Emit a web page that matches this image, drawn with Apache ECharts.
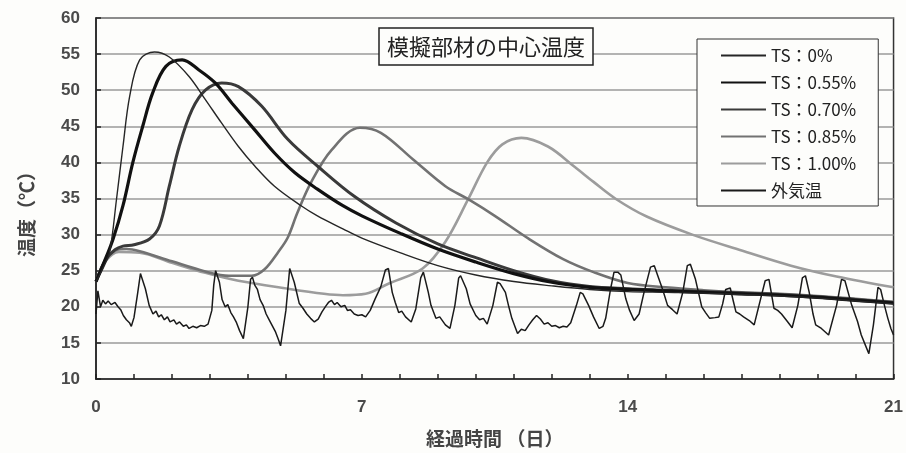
<!DOCTYPE html>
<html>
<head>
<meta charset="utf-8">
<script src="https://cdn.jsdelivr.net/npm/echarts@6/dist/echarts.min.js"></script>
<style>
html,body{margin:0;padding:0;background:#fdfdfb;}
#chart{width:906px;height:453px;}
</style>
</head>
<body>
<div id="chart"></div>
<script>
// ---- data (day, °C) ----
const seriesNames = ['TS：0%', 'TS：0.55%', 'TS：0.70%', 'TS：0.85%', 'TS：1.00%', '外気温'];
const xTickLabels = [0, 7, 14, 21];
const yTickLabels = [10, 15, 20, 25, 30, 35, 40, 45, 50, 55, 60];

const ts000 = [[0,23.5],[0.2,25.5],[0.36,27.6],[0.54,34.9],[0.71,42.2],[0.885,49.1],[1.15,54.2],[1.54,55.3],[1.93,54.6],[2.45,51.9],[2.88,48.7],[3.3,45.5],[3.75,42.2],[4.18,39.5],[4.7,36.7],[5.4,34.0],[5.83,32.6],[6.5,30.8],[7.0,29.5],[8.0,27.5],[9.0,25.7],[10.0,24.4],[11.0,23.5],[12.0,22.9],[13.0,22.4],[14.0,22.1],[15.0,22.0],[16.0,21.9],[17.0,21.7],[18.0,21.5],[19.0,21.2],[20.0,20.8],[21.0,20.4]];
const ts055 = [[0,23.5],[0.2,26.0],[0.45,29.4],[0.71,34.0],[0.97,40.0],[1.23,45.0],[1.49,49.6],[1.84,53.3],[2.27,54.2],[2.71,52.8],[3.14,51.0],[3.58,48.2],[4.18,44.5],[4.7,41.3],[5.23,38.6],[5.83,36.3],[6.5,34.0],[7.0,32.6],[8.0,30.2],[9.0,28.0],[10.0,26.2],[11.0,24.6],[12.0,23.4],[13.0,22.7],[14.0,22.4],[15,22.2],[16,22.0],[17,21.8],[18,21.6],[19,21.3],[20,20.9],[21,20.5]];
const ts070 = [[0,23.5],[0.25,26.5],[0.5,27.9],[0.71,28.4],[1.0,28.6],[1.41,29.4],[1.67,31.2],[1.93,36.7],[2.19,42.2],[2.53,47.3],[2.88,50.0],[3.31,51.0],[3.75,50.5],[4.36,47.8],[5.05,43.2],[5.83,39.5],[6.8,35.3],[7.9,31.6],[9.0,28.7],[10.0,26.8],[11.0,25.0],[12.0,23.6],[13.0,22.8],[14.0,22.5],[15,22.3],[16,22.1],[17,21.9],[18,21.7],[19,21.4],[20,21.0],[21,20.6]];
const ts085 = [[0,23.5],[0.25,26.5],[0.5,27.8],[0.8,28.0],[1.15,27.7],[2.0,26.3],[2.88,24.9],[3.5,24.3],[4.1,24.3],[4.44,25.2],[4.8,27.6],[5.05,29.6],[5.3,33.0],[5.66,37.2],[6.2,41.7],[6.95,44.8],[7.5,44.1],[8.35,40.4],[9.2,36.7],[9.8,34.9],[10.5,32.6],[11.4,29.4],[12.3,26.6],[13.1,24.8],[14.0,23.3],[15,22.7],[16,22.3],[17,22.0],[18,21.8],[19,21.5],[20,21.1],[21,20.7]];
const ts100 = [[0,23.5],[0.25,26.3],[0.6,27.6],[1.15,27.5],[2.0,26.1],[2.88,24.7],[3.75,23.6],[5.05,22.5],[6.0,21.8],[6.5,21.6],[7.1,21.8],[7.7,23.2],[8.6,25.3],[9.2,29.0],[9.8,34.9],[10.3,40.0],[10.7,42.5],[11.2,43.4],[11.9,42.2],[12.6,39.4],[13.1,37.3],[13.7,34.9],[14.5,32.5],[15.7,30.0],[17.0,27.8],[18.3,25.7],[19.5,24.2],[21.0,22.7]];
const outside = [[0.0,19.0],[0.05,22.2],[0.12,20.0],[0.18,20.9],[0.25,20.4],[0.32,20.8],[0.4,20.3],[0.5,20.6],[0.58,20.0],[0.65,19.6],[0.72,18.8],[0.8,18.2],[0.88,17.8],[0.93,17.3],[1.0,18.5],[1.1,22.0],[1.17,24.6],[1.22,24.8],[1.3,22.5],[1.4,20.2],[1.5,19.0],[1.58,19.4],[1.65,18.6],[1.72,18.9],[1.8,18.2],[1.88,18.6],[1.95,17.9],[2.05,18.2],[2.12,17.6],[2.2,17.9],[2.3,17.3],[2.38,17.5],[2.45,17.0],[2.55,17.3],[2.65,17.1],[2.75,17.4],[2.85,17.3],[2.95,17.6],[3.05,19.5],[3.1,23.0],[3.15,25.0],[3.2,24.8],[3.25,23.4],[3.32,21.0],[3.4,20.0],[3.47,20.3],[3.55,19.2],[3.62,18.6],[3.7,17.8],[3.78,16.7],[3.88,15.6],[4.0,20.0],[4.07,23.8],[4.12,24.1],[4.18,23.0],[4.25,22.4],[4.32,21.0],[4.4,20.2],[4.48,19.0],[4.56,18.2],[4.64,17.4],[4.72,16.6],[4.8,15.5],[4.86,14.6],[5.0,19.5],[5.1,25.3],[5.14,25.5],[5.22,23.4],[5.35,20.5],[5.45,19.8],[5.55,19.0],[5.65,18.4],[5.75,17.9],[5.85,18.3],[5.95,19.3],[6.05,20.1],[6.12,20.6],[6.2,20.9],[6.28,20.3],[6.35,20.6],[6.45,20.0],[6.55,20.2],[6.62,19.5],[6.7,19.6],[6.8,19.0],[6.9,18.8],[7.0,18.9],[7.1,18.6],[7.22,19.5],[7.35,21.1],[7.5,22.8],[7.62,25.1],[7.7,25.3],[7.8,22.0],[7.88,20.6],[7.97,19.2],[8.05,19.4],[8.15,18.6],[8.3,17.9],[8.42,19.7],[8.55,24.0],[8.62,24.8],[8.75,22.0],[8.82,20.2],[8.95,18.4],[9.05,18.6],[9.2,17.5],[9.32,17.0],[9.45,20.2],[9.55,24.0],[9.6,24.3],[9.75,22.5],[9.85,20.4],[10.0,18.8],[10.1,18.2],[10.2,18.4],[10.3,17.6],[10.45,20.2],[10.57,23.4],[10.64,23.2],[10.78,22.0],[10.87,20.0],[10.95,18.4],[11.05,17.0],[11.1,16.3],[11.2,16.9],[11.3,16.7],[11.4,17.5],[11.5,18.2],[11.6,18.8],[11.7,18.3],[11.8,17.6],[11.9,17.8],[12.0,17.3],[12.1,17.4],[12.2,17.1],[12.3,17.3],[12.4,17.2],[12.5,17.8],[12.65,20.2],[12.75,22.0],[12.82,21.8],[12.97,20.2],[13.1,18.6],[13.25,17.0],[13.35,17.3],[13.42,18.4],[13.55,22.5],[13.64,24.8],[13.74,24.8],[13.82,24.4],[13.95,21.1],[14.05,19.5],[14.17,18.1],[14.3,19.0],[14.43,22.0],[14.6,25.5],[14.7,25.7],[14.82,23.9],[14.92,22.4],[15.05,20.2],[15.18,19.6],[15.3,19.0],[15.45,22.0],[15.57,25.7],[15.65,25.9],[15.78,23.9],[15.95,20.0],[16.05,19.2],[16.16,18.4],[16.3,18.5],[16.4,18.6],[16.5,20.4],[16.58,22.4],[16.7,22.6],[16.78,20.8],[16.85,19.3],[16.95,19.0],[17.05,18.6],[17.2,18.1],[17.33,17.5],[17.5,21.1],[17.62,23.6],[17.72,23.8],[17.85,19.8],[17.95,19.5],[18.05,19.0],[18.2,18.0],[18.33,17.1],[18.48,20.2],[18.6,24.0],[18.68,24.3],[18.78,22.0],[18.88,19.0],[18.95,17.5],[19.1,17.0],[19.29,16.1],[19.5,20.2],[19.63,23.8],[19.72,23.6],[19.9,20.2],[20.05,18.0],[20.15,16.1],[20.25,14.8],[20.35,13.5],[20.47,17.5],[20.59,22.7],[20.66,22.4],[20.76,20.2],[20.85,18.4],[20.93,17.0],[21.0,16.1]];

const seriesData = [ts000, ts055, ts070, ts085, ts100, outside];
const seriesColors = ['#262626', '#111111', '#3a3a3a', '#727272', '#9c9c9c', '#1a1a1a'];
const seriesWidths = [1.4, 3.2, 3.0, 2.6, 2.6, 1.5];

const jp = '"Noto Sans CJK JP", "Noto Sans", sans-serif';

const chart = echarts.init(document.getElementById('chart'), null, {renderer: 'canvas'});
chart.setOption({
  backgroundColor: '#fdfdfb',
  animation: false,
  title: {
    text: '模擬部材の中心温度',
    left: 379, top: 28,
    padding: [8, 8, 7, 8],
    borderColor: '#222', borderWidth: 1.5,
    backgroundColor: '#fdfdfb',
    textStyle: {fontFamily: jp, fontSize: 22, fontWeight: 'normal', color: '#222'}
  },
  legend: {
    orient: 'vertical',
    left: 697, top: 39,
    padding: [8, 22, 7, 23],
    itemGap: 10, itemWidth: 45, itemHeight: 17,
    borderColor: '#333', borderWidth: 1,
    backgroundColor: '#fdfdfb',
    itemStyle: {opacity: 0},
    data: seriesNames,
    textStyle: {fontFamily: jp, fontSize: 17, color: '#222'}
  },
  grid: {
    left: 96, right: 4, top: 18, bottom: 72,
    show: true, borderColor: '#333', borderWidth: 1.5, backgroundColor: 'transparent'
  },
  xAxis: {
    type: 'value', min: 0, max: 21, interval: 1,
    name: '経過時間 （日）', nameLocation: 'middle', nameGap: 50,
    nameTextStyle: {fontFamily: jp, fontSize: 19, fontWeight: 'bold', color: '#444'},
    axisLine: {lineStyle: {color: '#222', width: 1.5}},
    axisTick: {inside: true, length: 5, lineStyle: {color: '#222', width: 1.5}},
    axisLabel: {
      margin: 20, fontFamily: '"Liberation Sans", Arial, sans-serif', fontSize: 17, fontWeight: 'bold', color: '#4a4a4a',
      formatter: v => xTickLabels.includes(v) ? String(v) : ''
    },
    splitLine: {show: false}
  },
  yAxis: {
    type: 'value', min: 10, max: 60, interval: 5,
    name: '温度（℃）', nameLocation: 'middle', nameGap: 60, nameRotate: 90,
    nameTextStyle: {fontFamily: jp, fontSize: 19, fontWeight: 'bold', color: '#444', padding: [0, 22, 0, 0]},
    axisLine: {show: true, lineStyle: {color: '#222', width: 1.5}},
    axisTick: {show: true, inside: true, length: 5, lineStyle: {color: '#222', width: 1.5}},
    axisLabel: {margin: 16, fontFamily: '"Liberation Sans", Arial, sans-serif', fontSize: 17, fontWeight: 'bold', color: '#4a4a4a',
      formatter: v => yTickLabels.includes(v) ? String(v) : ''},
    splitLine: {show: true, lineStyle: {color: '#9a9a9a', width: 1.5}}
  },
  series: seriesNames.map((n, i) => ({
    name: n,
    type: 'line',
    data: seriesData[i],
    showSymbol: false,
    symbol: 'none',
    smooth: i < 5 ? 0.35 : false,
    z: i === 5 ? 3 : 2 + (4 - i) * 0.1,
    lineStyle: {color: seriesColors[i], width: seriesWidths[i]},
    itemStyle: {color: seriesColors[i]}
  }))
});
</script>
</body>
</html>
